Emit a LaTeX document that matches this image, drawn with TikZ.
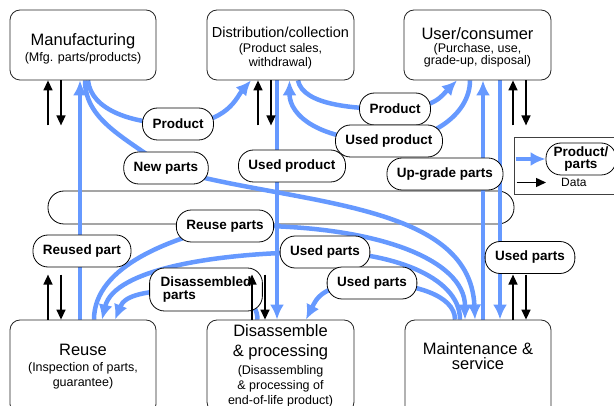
\documentclass[tikz,border=0pt]{standalone}
\usepackage{fontspec}
\setmainfont{Liberation Sans}
\usetikzlibrary{arrows.meta, backgrounds}

\definecolor{flowblue}{RGB}{102,153,255}
\newcommand{\subtxt}[1]{{\fontsize{12.5}{15}\selectfont #1}}

\begin{document}
\begin{tikzpicture}[x=1pt, y=-1pt,
        % Styles
        stage/.style={rectangle, draw=black!85, fill=white, line width=0.8pt, rounded corners=10pt, minimum width=146pt, minimum height=70pt, align=center, inner sep=0pt, font=\fontsize{16.5}{15}\selectfont},
        tag/.style={rectangle, draw=black, fill=white, line width=0.8pt, rounded corners=15pt, minimum height=32pt, inner xsep=10pt, inner ysep=0pt, align=left, font=\fontsize{13.5}{12.5}\selectfont\bfseries},
        flow/.style={draw=flowblue, line width=4.5pt},
        flowto/.style={flow, -{Latex[length=15pt, width=14pt]}},
        data/.style={draw=black, line width=1.4pt, -{Triangle[length=10pt, width=9pt]}}
    ]

    \useasboundingbox (0,0) rectangle (614,406);
    \clip (0,0) rectangle (614,406);

    % Stages
    \node [stage] (manuf) at (83,45) {\rule{0pt}{19pt}Manufacturing\\[1pt] \subtxt{(Mfg. parts/products)}};
    \node [stage, minimum width=147pt] (distrib) at (280.5,45) {{\fontsize{14.5}{15}\selectfont\rule{0pt}{16.5pt}Distribution/collection}\\[0.5pt] \subtxt{(Product sales,}\\[-1pt] \subtxt{withdrawal)}};
    \node [stage, minimum width=147pt] (user) at (477.5,45) {\rule{0pt}{16pt}User/consumer\\[-2pt] \subtxt{(Purchase, use,}\\[-3pt] \subtxt{grade-up, disposal)}};
    \node [stage, minimum height=94pt] (reuse) at (83,367) {Reuse\\[1pt] \subtxt{(Inspection of parts,}\\ \subtxt{guarantee)}};
    \node [stage, minimum width=147pt, minimum height=92pt] (disasm) at (280.5,366) {Disassemble\\[5pt] \& processing\\[3pt] \subtxt{(Disassembling}\\ \subtxt{\& processing of}\\ \subtxt{end-of-life product)}};
    \node [stage, minimum height=103pt] (maint) at (478,371.5) {Maintenance \&\\ service\\ \mbox{}\\ \mbox{}};

    % Labels
    \node [tag] (product1) at (178,124) {Product};
    \node [tag] (newparts) at (166,168) {New parts};
    \node [tag] (usedprod1) at (292,166) {Used product};
    \node [tag] (product2) at (395,109) {Product};
    \node [tag] (usedprod2) at (389,141) {Used product};
    \node [tag] (upgrade) at (445,174) {Up-grade parts};
    \node [tag] (reuseparts) at (225,226) {Reuse parts};
    \node [tag] (reusedpart) at (82,251) {Reused part};
    \node [tag, minimum height=43pt, inner xsep=11pt] (disparts) at (206,289.5) {Disassembled\\ \,parts};
    \node [tag] (usedparts1) at (325,252) {Used parts};
    \node [tag] (usedparts2) at (372,283) {Used parts};
    \node [tag] (usedparts3) at (530,257.5) {Used parts};

    % Legend
    \node [draw=black!75, line width=0.8pt, minimum width=102pt, minimum height=57pt] (legend) at (565,165.5) {};
    \node [tag, align=center, minimum width=70pt, inner xsep=4pt, font=\fontsize{13.5}{12.5}\selectfont\bfseries] (legprod) at (581,159) {Product/\\parts};
    \node [anchor=west, inner sep=0pt, font=\fontsize{12}{14}\selectfont] (legdata) at (561,182.5) {Data};

    \begin{scope}[on background layer]
        \node [draw=black, line width=0.8pt, rounded corners=16pt, minimum width=466pt, minimum height=33pt] (band) at (281,207.5) {};

        % Flows of products and parts
        \draw [flowto] ([xshift=-3pt]reuse.north) -- ([xshift=-3pt]manuf.south);
        \draw [flow] ([xshift=5pt]manuf.south) .. controls +(3,30) and +(-45,0) .. (product1.center);
        \draw [flowto] (product1.center) .. controls +(50,0) and +(-14,16) .. ([xshift=-29.5pt]distrib.south);
        \draw [flow] ([xshift=2pt]manuf.south) .. controls +(0,40) and +(-40,-30) .. (newparts.center);
        \draw [flowto] (newparts.center) .. controls +(124,37) and +(-5,-120) .. ([xshift=-3pt]maint.north);
        \draw [flowto] ([xshift=-3.5pt]distrib.south) -- ([xshift=-3.5pt]disasm.north);
        \draw [flow] ([xshift=17.5pt]distrib.south) .. controls +(5,25) and +(-40,0) .. (product2.center);
        \draw [flowto] (product2.center) .. controls +(40,0) and +(-15,15) .. ([xshift=-20.5pt]user.south);
        \draw [flow] ([xshift=-7.5pt]user.south) .. controls +(0,35) and +(40,0) .. (usedprod2.center);
        \draw [flowto] (usedprod2.center) .. controls +(-70,0) and +(0,35) .. ([xshift=9pt]distrib.south);
        \draw [flowto] ([xshift=5pt]maint.north) -- ([xshift=5.5pt]user.south);
        \draw [flowto] ([xshift=22.5pt]user.south) -- ([xshift=22pt]maint.north);
        \draw [flow] ([xshift=11pt]reuse.north) .. controls +(0,-55) and +(-50,12) .. (reuseparts.center);
        \draw [flowto] (reuseparts.center) .. controls +(150,-4) and +(0,-60) .. ([xshift=-13pt]maint.north);
        \draw [flow] ([xshift=-18pt]maint.north) .. controls +(0,-45) and +(60,0) .. (usedparts1.center);
        \draw [flowto] (usedparts1.center) .. controls +(-110,0) and +(12,-50) .. ([xshift=19pt]reuse.north);
        \draw [flow] ([xshift=-23pt]disasm.north) .. controls +(0,-20) and +(30,0) .. (disparts.center);
        \draw [flowto] (disparts.center) .. controls +(-60,0) and +(10,-25) .. ([xshift=32pt]reuse.north);
        \draw [flow] ([xshift=-23pt]maint.north) .. controls +(0,-25) and +(40,0) .. (usedparts2.center);
        \draw [flowto] (usedparts2.center) .. controls +(-50,0) and +(10,-20) .. ([xshift=25.5pt]disasm.north);
        \draw [flowto] ([xshift=2pt]legend.west |- legprod) -- (legprod.west);
    \end{scope}

    % Data flows
    \draw [data] ([xshift=-35pt, yshift=-45pt]manuf.south) -- ([xshift=-35pt]manuf.south);
    \draw [data] ([xshift=-22pt]manuf.south) -- ([xshift=-22pt, yshift=-45pt]manuf.south);
    \draw [data] ([xshift=-22.5pt, yshift=-45pt]distrib.south) -- ([xshift=-22.5pt]distrib.south);
    \draw [data] ([xshift=-9.5pt]distrib.south) -- ([xshift=-9.5pt, yshift=-45pt]distrib.south);
    \draw [data] ([xshift=35.5pt, yshift=-45pt]user.south) -- ([xshift=35.5pt]user.south);
    \draw [data] ([xshift=48.5pt]user.south) -- ([xshift=48.5pt, yshift=-45pt]user.south);
    \draw [data] ([xshift=-35pt]reuse.north) -- ([xshift=-35pt, yshift=45pt]reuse.north);
    \draw [data] ([xshift=-22pt, yshift=45pt]reuse.north) -- ([xshift=-22pt]reuse.north);
    \draw [data] ([xshift=-28.5pt]disasm.north) -- ([xshift=-28.5pt, yshift=45pt]disasm.north);
    \draw [data] ([xshift=-15.5pt, yshift=45pt]disasm.north) -- ([xshift=-15.5pt]disasm.north);
    \draw [data] ([xshift=35pt]maint.north) -- ([xshift=35pt, yshift=45pt]maint.north);
    \draw [data] ([xshift=48pt, yshift=45pt]maint.north) -- ([xshift=48pt]maint.north);
    \draw [data] ([xshift=3pt]legend.west |- legdata) -- ([xshift=-15pt]legdata.west);

\end{tikzpicture}
\end{document}
